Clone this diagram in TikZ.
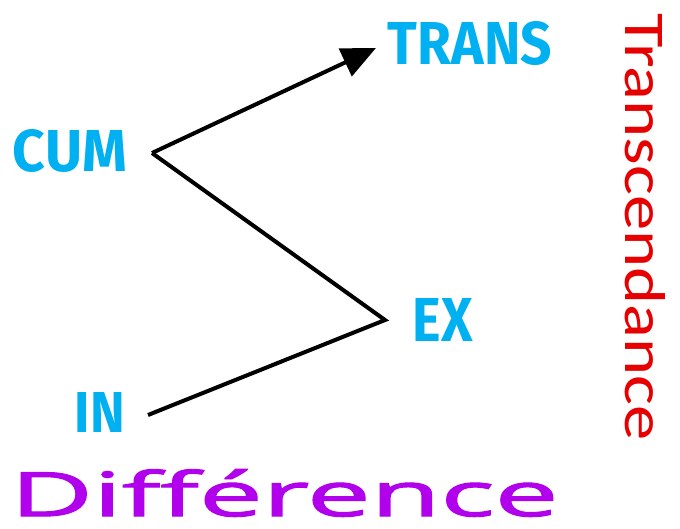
\documentclass[tikz,border=0pt]{standalone}
\usepackage{fontspec}
\usepackage{graphicx}
\usetikzlibrary{arrows.meta}
\newfontfamily\lblfont{Fira Sans}
\newfontfamily\diffont[FakeBold=1.5]{Open Sans}
\newfontfamily\trfont{Carlito}
\definecolor{lblcyan}{RGB}{0,176,240}
\definecolor{trred}{RGB}{230,0,0}
\definecolor{difpurple}{RGB}{176,0,236}
\tikzset{
  lbl/.style={inner sep=0pt, text=lblcyan, font=\lblfont\bfseries},
  conn/.style={line width=4pt, black, line join=miter},
}
\begin{document}
\begin{tikzpicture}[x=1pt,y=-1pt]
\useasboundingbox (0,0) rectangle (680,528);
\node[lbl] (trans) at (470,44) {\resizebox{164pt}{43pt}{TRANS}};
\node[lbl] (cum) at (70,151) {\resizebox{114pt}{42pt}{CUM}};
\node[lbl] (ex) at (443,320) {\resizebox{60pt}{43pt}{EX}};
\node[lbl] (in) at (100,412) {\resizebox{50pt}{40pt}{IN}};
\node[inner sep=0pt, text=difpurple, anchor=south west] (dif) at (10,517) {\resizebox{548pt}{47pt}{\diffont Différence}};
\node[inner sep=0pt, text=trred, rotate=-90] (tr) at (645,227) {\resizebox{427pt}{40pt}{\trfont Transcendance}};
\coordinate (p1) at (152,153);
\coordinate (p2) at (385,320);
\coordinate (p3) at (148,415);
\coordinate (tip) at (376,48);
\draw[conn] (p3) -- (p2) -- (p1);
\draw[conn, -{Triangle[length=34pt,width=30pt]}] (p1) -- (tip);
\end{tikzpicture}
\end{document}
